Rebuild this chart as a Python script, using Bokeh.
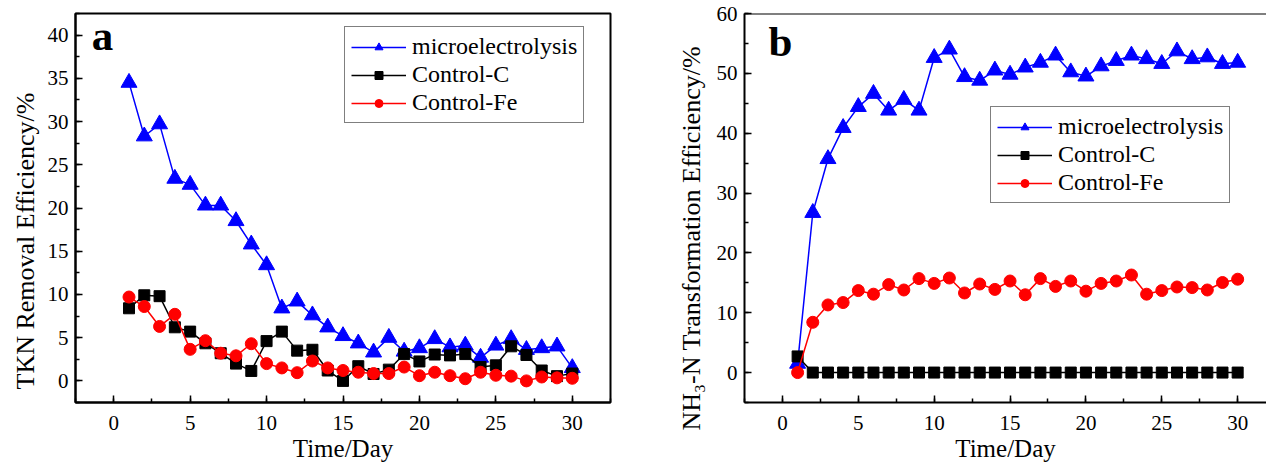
from bokeh.plotting import figure
from bokeh.models import Range1d, SingleIntervalTicker, Legend, LegendItem, Label, Span, Title
from bokeh.layouts import row
from bokeh.embed import file_html
from bokeh.resources import INLINE

days = list(range(1, 31))
series_names = ["microelectrolysis", "Control-C", "Control-Fe"]

# Panel a: TKN removal efficiency (%)
tkn_micro = [34.5, 28.3, 29.7, 23.4, 22.7, 20.3, 20.3, 18.5, 15.8, 13.4,
             8.4, 9.2, 7.6, 6.2, 5.2, 4.35, 3.3, 5.0, 3.4, 3.8,
             4.85, 3.9, 4.1, 2.7, 4.1, 4.85, 3.6, 3.8, 4.0, 1.5]
tkn_ctrl_c = [8.4, 9.9, 9.8, 6.2, 5.7, 4.35, 3.2, 2.0, 1.15, 4.6,
              5.7, 3.5, 3.6, 1.2, 0.0, 1.7, 0.8, 1.3, 3.1, 2.25,
              3.05, 2.95, 3.1, 1.6, 1.8, 4.0, 3.0, 1.2, 0.55, 0.85]
tkn_ctrl_fe = [9.7, 8.6, 6.3, 7.7, 3.65, 4.65, 3.2, 2.9, 4.3, 2.0,
               1.5, 0.95, 2.3, 1.5, 1.2, 1.0, 0.85, 0.85, 1.6, 0.6,
               1.0, 0.6, 0.25, 1.0, 0.65, 0.55, 0.0, 0.45, 0.35, 0.3]

# Panel b: NH3-N transformation efficiency (%)
nh3_micro = [1.5, 26.7, 35.7, 40.9, 44.4, 46.6, 43.8, 45.6, 43.8, 52.6,
             54.0, 49.4, 48.8, 50.5, 49.8, 51.0, 51.8, 53.0, 50.2, 49.5,
             51.2, 52.1, 53.0, 52.4, 51.6, 53.7, 52.4, 52.7, 51.6, 51.8]
nh3_ctrl_c = [2.7, 0, 0, 0, 0, 0, 0, 0, 0, 0,
              0, 0, 0, 0, 0, 0, 0, 0, 0, 0,
              0, 0, 0, 0, 0, 0, 0, 0, 0, 0]
nh3_ctrl_fe = [0.0, 8.4, 11.3, 11.7, 13.7, 13.1, 14.7, 13.8, 15.7, 14.9,
               15.8, 13.3, 14.8, 13.9, 15.3, 13.0, 15.7, 14.4, 15.3, 13.6,
               14.9, 15.3, 16.3, 13.1, 13.7, 14.3, 14.2, 13.8, 15.05, 15.6]

FONT = "Liberation Serif"


def make_panel(width, height, borders, xr, yr, y_interval, series, letter,
               letter_pos, ylabel, ylabel_offset, ylabel_standoff, legend_loc, box=True):
    bl, br, bt, bb = borders
    p = figure(width=width, height=height, output_backend="svg",
               toolbar_location=None, x_range=Range1d(*xr), y_range=Range1d(*yr),
               min_border_left=bl, min_border_right=br,
               min_border_top=bt, min_border_bottom=bb)
    p.xgrid.visible = False
    p.ygrid.visible = False
    p.background_fill_color = "white"
    p.border_fill_color = "white"
    if box:
        p.outline_line_color = "black"
        p.outline_line_width = 2
        p.outline_line_alpha = 1
    else:
        p.outline_line_color = None
        p.add_layout(Span(location=yr[1], dimension="width",
                          line_color="black", line_width=2))
    p.xaxis.ticker = SingleIntervalTicker(interval=5, num_minor_ticks=2)
    p.yaxis.ticker = SingleIntervalTicker(interval=y_interval, num_minor_ticks=2)
    p.axis.axis_line_width = 2
    p.axis.axis_line_color = "black"
    p.axis.major_tick_in = 7
    p.axis.major_tick_out = 0
    p.axis.minor_tick_in = 4
    p.axis.minor_tick_out = 0
    p.axis.major_tick_line_width = 1.5
    p.axis.minor_tick_line_width = 1.5
    p.axis.major_tick_line_color = "black"
    p.axis.minor_tick_line_color = "black"
    p.axis.major_label_text_font = FONT
    p.axis.major_label_text_font_style = "normal"
    p.axis.major_label_text_font_size = "21px"
    p.axis.major_label_text_color = "black"
    p.xaxis.major_label_standoff = 13
    p.yaxis.major_label_standoff = 7

    items = []
    for name, ys, color, marker, size in series:
        lr = p.line(days, ys, line_color=color, line_width=1.5)
        sr = p.scatter(days, ys, marker=marker, size=size,
                       fill_color=color, line_color=color)
        items.append(LegendItem(label=name, renderers=[lr, sr]))

    legend = Legend(items=items, location=legend_loc,
                    label_text_font=FONT, label_text_font_size="24px",
                    label_text_color="black",
                    glyph_width=55, glyph_height=20, label_height=20,
                    label_standoff=6, padding=6, spacing=1, margin=0,
                    border_line_color="black", border_line_width=1.5,
                    background_fill_color="white", background_fill_alpha=1)
    p.add_layout(legend)

    p.add_layout(Label(x=letter_pos[0], y=letter_pos[1], y_offset=18, text=letter,
                       text_font=FONT, text_font_size="43px",
                       text_font_style="bold", text_color="black",
                       text_baseline="alphabetic", text_align="left"))
    p.add_layout(Title(text=ylabel, align="left", offset=ylabel_offset,
                       text_font=FONT, text_font_size="26px",
                       text_font_style="normal", text_color="black",
                       standoff=ylabel_standoff), "left")
    p.add_layout(Title(text="Time/Day", align="center",
                       text_font=FONT, text_font_size="25px",
                       text_font_style="normal", text_color="black",
                       standoff=0), "below")
    return p


pa = make_panel(640, 466, (75, 30, 13, 60), (-2.5, 32.5), (-2.5, 42.5), 5,
                [(series_names[0], tkn_micro, "#0000FF", "triangle", 16),
                 (series_names[1], tkn_ctrl_c, "black", "square", 11),
                 (series_names[2], tkn_ctrl_fe, "#FF0000", "circle", 12)],
                "a", (-1.44, 37.9), "TKN Removal Efficiency/%", 13, 10,
                (269, 279), box=True)

pb = make_panel(626, 466, (104, 0, 12, 64), (-2.5, 31.9), (-5, 60), 10,
                [(series_names[0], nh3_micro, "#0000FF", "triangle", 16),
                 (series_names[1], nh3_ctrl_c, "black", "square", 11),
                 (series_names[2], nh3_ctrl_fe, "#FF0000", "circle", 12)],
                "b", (-0.92, 52.3), "NH\u2083-N Transformation Efficiency/%", -28, 16,
                (246, 199), box=False)

layout = row(pa, pb)
open("out.html", "w").write(file_html(layout, INLINE))
